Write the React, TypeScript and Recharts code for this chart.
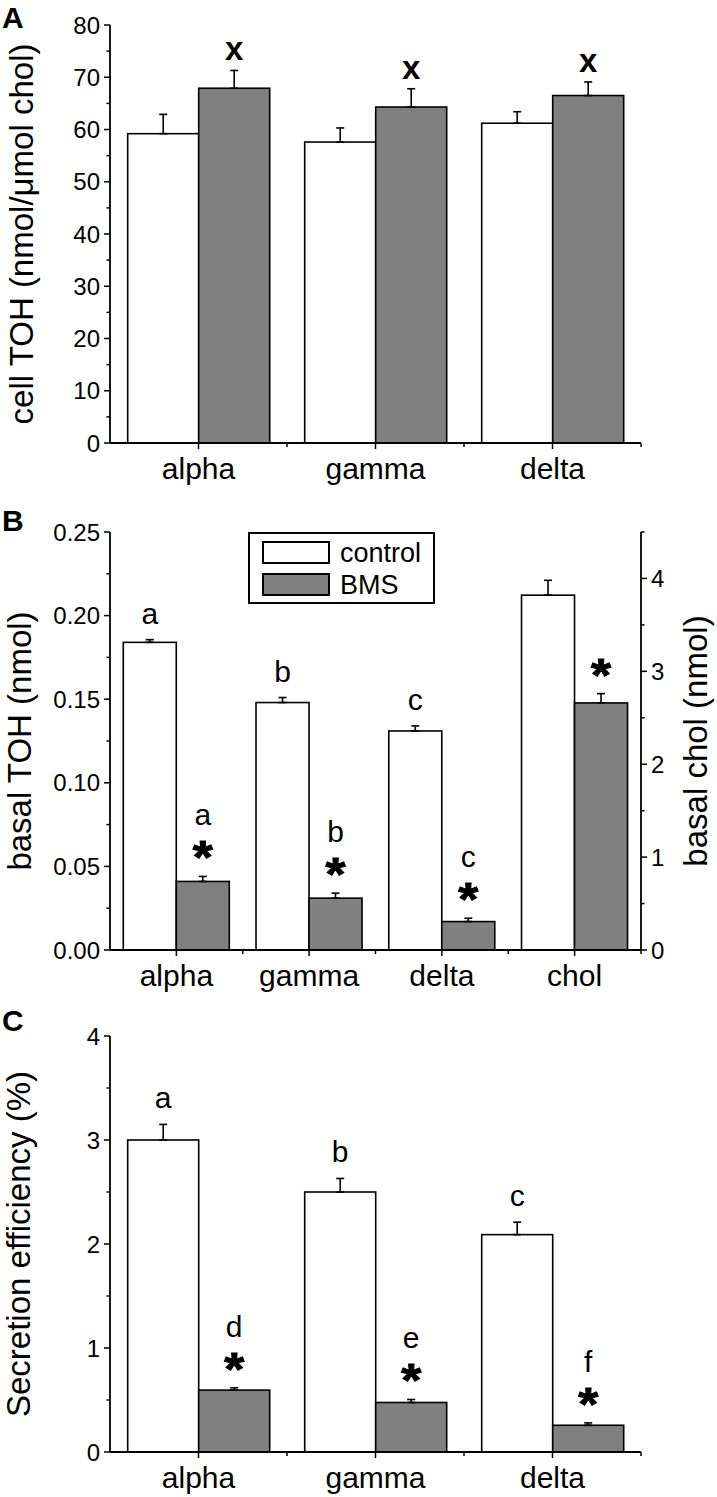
import React from 'react'
import { BarChart, Bar, XAxis, YAxis, ErrorBar, Legend } from 'recharts'

const FONT = '"Liberation Sans", Arial, Helvetica, sans-serif'
const GREY = '#808080'
const W = 717
const LEFT = 110
const RIGHT = 76

// Panel A - cell TOH
const catsA = ['alpha', 'gamma', 'delta']
const ctrlA = [59.2, 57.6, 61.2]
const ctrlErrA = [3.7, 2.7, 2.2]
const bmsA = [67.9, 64.3, 66.5]
const bmsErrA = [3.4, 3.5, 2.6]
const bmsMarkA = ['x', 'x', 'x']
const majorA = [0, 10, 20, 30, 40, 50, 60, 70, 80]
const minorA = [5, 15, 25, 35, 45, 55, 65, 75]

// Panel B - basal TOH (left axis) and basal chol (right axis)
const catsB = ['alpha', 'gamma', 'delta', 'chol']
const ctrlB = [0.184, 0.148, 0.131, null]
const ctrlErrB = [0.0016, 0.003, 0.003, null]
const bmsB = [0.041, 0.031, 0.017, null]
const bmsErrB = [0.003, 0.003, 0.002, null]
const ctrlCholB = [null, null, null, 3.82]
const ctrlCholErrB = [null, null, null, 0.16]
const bmsCholB = [null, null, null, 2.66]
const bmsCholErrB = [null, null, null, 0.1]
const ctrlLetterB = ['a', 'b', 'c', '']
const bmsLetterB = ['a', 'b', 'c', '']
const bmsStarB = [true, true, true, true]
const majorBL = [0, 0.05, 0.1, 0.15, 0.2, 0.25]
const minorBL = [0.025, 0.075, 0.125, 0.175, 0.225]
const majorBR = [0, 1, 2, 3, 4]
const minorBR = [0.5, 1.5, 2.5, 3.5, 4.5]
const legendNames = ['control', 'BMS']

// Panel C - secretion efficiency
const catsC = ['alpha', 'gamma', 'delta']
const ctrlC = [3.0, 2.5, 2.09]
const ctrlErrC = [0.15, 0.13, 0.12]
const bmsC = [0.595, 0.476, 0.257]
const bmsErrC = [0.022, 0.029, 0.023]
const ctrlLetterC = ['a', 'b', 'c']
const bmsLetterC = ['d', 'e', 'f']
const bmsStarC = [true, true, true]
const majorC = [0, 1, 2, 3, 4]
const minorC = [0.5, 1.5, 2.5, 3.5]

const dataA = catsA.map((cat, i) => ({
  cat, ctrl: ctrlA[i], ctrlErr: ctrlErrA[i], bms: bmsA[i], bmsErr: bmsErrA[i], bmsMark: bmsMarkA[i],
}))

const dataB = catsB.map((cat, i) => ({
  cat,
  ctrl: ctrlB[i], ctrlErr: ctrlErrB[i], bms: bmsB[i], bmsErr: bmsErrB[i],
  ctrlChol: ctrlCholB[i], ctrlCholErr: ctrlCholErrB[i], bmsChol: bmsCholB[i], bmsCholErr: bmsCholErrB[i],
  ctrlMark: ctrlLetterB[i], bmsMark: bmsLetterB[i], bmsStar: bmsStarB[i],
}))

const dataC = catsC.map((cat, i) => ({
  cat, ctrl: ctrlC[i], ctrlErr: ctrlErrC[i], bms: bmsC[i], bmsErr: bmsErrC[i],
  ctrlMark: ctrlLetterC[i], bmsMark: bmsLetterC[i], bmsStar: bmsStarC[i],
}))

const errOf = (key: string) => (d: any) => (d[key] == null ? null : [0, d[key]])

// bar rect plus the letter / asterisk stack that sits above its error bar
function barShape(fill: string, valKey: string, errKey: string, markKey?: string, starKey?: string, boldMark?: boolean) {
  return (p: any) => {
    const { x, y, width, height, payload } = p
    const v = payload[valKey]
    if (v == null || !(height > 0)) return <g />
    const e = payload[errKey] || 0
    const top = y - (e * height) / v
    const cx = x + width / 2
    const mark = markKey ? payload[markKey] : ''
    const star = starKey ? payload[starKey] : false
    return (
      <g>
        <rect x={x} y={y} width={width} height={height} fill={fill} stroke="#000" strokeWidth={1.6} />
        {star && (
          <text
            x={cx}
            y={top - 3}
            textAnchor="middle"
            fontSize={46}
            fontWeight="bold"
            fontFamily={FONT}
            stroke="#000"
            strokeWidth={1}
            textLength={20}
            lengthAdjust="spacingAndGlyphs"
          >
            *
          </text>
        )}
        {mark && (
          <text
            x={cx}
            y={star ? top - 51 : boldMark ? top - 10 : top - 16}
            textAnchor="middle"
            fontSize={boldMark ? 33 : 30}
            fontWeight={boldMark ? 'bold' : 'normal'}
            fontFamily={FONT}
          >
            {mark}
          </text>
        )}
      </g>
    )
  }
}

function yTick(majors: number[], fmt: (v: number) => string, side: 'left' | 'right') {
  return (p: any) => {
    const { x, y, payload } = p
    const v = payload.value
    const major = majors.includes(v)
    const s = side === 'left' ? -1 : 1
    return (
      <g>
        <line x1={x} x2={x + s * (major ? 6 : 3.5)} y1={y} y2={y} stroke="#000" strokeWidth={1.5} />
        {major && (
          <text x={x + s * 10} y={y + 8.5} textAnchor={side === 'left' ? 'end' : 'start'} fontSize={24} fontFamily={FONT}>
            {fmt(v)}
          </text>
        )}
      </g>
    )
  }
}

function xTick(band: number) {
  return (p: any) => {
    const { x, y, payload } = p
    return (
      <g>
        <line x1={x} x2={x} y1={y} y2={y + 6} stroke="#000" strokeWidth={1.5} />
        <line x1={x + band / 2} x2={x + band / 2} y1={y} y2={y + 4} stroke="#000" strokeWidth={1.5} />
        <text x={x} y={y + 36} textAnchor="middle" fontSize={30} fontFamily={FONT}>{payload.value}</text>
      </g>
    )
  }
}

function yTitle(text: string, bx: number) {
  return (p: any) => {
    const vb = p.viewBox || {}
    const cy = vb.y + vb.height / 2
    return (
      <text x={bx} y={cy} transform={`rotate(-90 ${bx} ${cy})`} textAnchor="middle" fontSize={33} fontFamily={FONT}>
        {text}
      </text>
    )
  }
}

const axisLine = { stroke: '#000', strokeWidth: 1.8 }
const fmtInt = (v: number) => String(v)
const fmt2 = (v: number) => v.toFixed(2)

const LegendBox = () => (
  <svg width={188} height={73}>
    <rect x={1} y={1} width={185} height={70} fill="#fff" stroke="#000" strokeWidth={2} />
    {legendNames.map((n, i) => (
      <g key={n}>
        <rect x={15} y={10 + i * 32} width={66} height={21} fill={i === 0 ? '#fff' : GREY} stroke="#000" strokeWidth={2} />
        <text x={92} y={30 + i * 32} fontSize={27} fontFamily={FONT}>{n}</text>
      </g>
    ))}
  </svg>
)

export default function App() {
  const bandA = (W - LEFT - RIGHT) / catsA.length
  const bandB = (W - LEFT - RIGHT) / catsB.length
  const bandC = (W - LEFT - RIGHT) / catsC.length
  return (
    <div style={{ position: 'absolute', left: 0, top: 0, width: W, height: 1497, background: '#fff' }}>
      <div style={{ position: 'absolute', left: 0, top: 0 }}>
        <BarChart width={W} height={490} data={dataA} margin={{ top: 25, right: RIGHT, bottom: 0, left: 0 }} barGap={0} barCategoryGap="10%">
          <XAxis dataKey="cat" height={47} axisLine={axisLine} tickLine={false} tickSize={0} tickMargin={0} interval={0} tick={xTick(bandA)} />
          <YAxis
            width={LEFT}
            domain={[0, 80]}
            ticks={[...majorA, ...minorA].sort((a, b) => a - b)}
            interval={0}
            axisLine={axisLine}
            tickLine={false}
            tickSize={0}
            tickMargin={0}
            tick={yTick(majorA, fmtInt, 'left')}
            label={yTitle('cell TOH (nmol/\u03bcmol chol)', 33)}
          />
          <Bar dataKey="ctrl" isAnimationActive={false} shape={barShape('#fff', 'ctrl', 'ctrlErr')}>
            <ErrorBar dataKey={errOf('ctrlErr')} width={4} stroke="#000" strokeWidth={1.6} isAnimationActive={false} />
          </Bar>
          <Bar dataKey="bms" isAnimationActive={false} shape={barShape(GREY, 'bms', 'bmsErr', 'bmsMark', undefined, true)}>
            <ErrorBar dataKey={errOf('bmsErr')} width={4} stroke="#000" strokeWidth={1.6} isAnimationActive={false} />
          </Bar>
        </BarChart>
      </div>

      <div style={{ position: 'absolute', left: 0, top: 480 }}>
        <BarChart width={W} height={520} data={dataB} margin={{ top: 52, right: 0, bottom: 0, left: 0 }} barGap={0} barCategoryGap="10%">
          <XAxis xAxisId="t" dataKey="cat" height={50} axisLine={axisLine} tickLine={false} tickSize={0} tickMargin={0} interval={0} tick={xTick(bandB)} />
          <XAxis xAxisId="c" dataKey="cat" height={0} hide />
          <YAxis
            yAxisId="l"
            width={LEFT}
            domain={[0, 0.25]}
            ticks={[...majorBL, ...minorBL].sort((a, b) => a - b)}
            interval={0}
            axisLine={axisLine}
            tickLine={false}
            tickSize={0}
            tickMargin={0}
            tick={yTick(majorBL, fmt2, 'left')}
            label={yTitle('basal TOH (nmol)', 31)}
          />
          <YAxis
            yAxisId="r"
            orientation="right"
            width={RIGHT}
            domain={[0, 4.5]}
            ticks={[...majorBR, ...minorBR].sort((a, b) => a - b)}
            interval={0}
            axisLine={axisLine}
            tickLine={false}
            tickSize={0}
            tickMargin={0}
            tick={yTick(majorBR, fmtInt, 'right')}
            label={yTitle('basal chol (nmol)', 707)}
          />
          <Legend layout="vertical" align="center" verticalAlign="middle" wrapperStyle={{ left: 248, top: 52, width: 188, height: 73 }} content={() => <LegendBox />} />
          <Bar xAxisId="t" yAxisId="l" dataKey="ctrl" isAnimationActive={false} shape={barShape('#fff', 'ctrl', 'ctrlErr', 'ctrlMark')}>
            <ErrorBar dataKey={errOf('ctrlErr')} width={4} stroke="#000" strokeWidth={1.6} isAnimationActive={false} />
          </Bar>
          <Bar xAxisId="t" yAxisId="l" dataKey="bms" isAnimationActive={false} shape={barShape(GREY, 'bms', 'bmsErr', 'bmsMark', 'bmsStar')}>
            <ErrorBar dataKey={errOf('bmsErr')} width={4} stroke="#000" strokeWidth={1.6} isAnimationActive={false} />
          </Bar>
          <Bar xAxisId="c" yAxisId="r" dataKey="ctrlChol" isAnimationActive={false} shape={barShape('#fff', 'ctrlChol', 'ctrlCholErr')}>
            <ErrorBar dataKey={errOf('ctrlCholErr')} width={4} stroke="#000" strokeWidth={1.6} isAnimationActive={false} />
          </Bar>
          <Bar xAxisId="c" yAxisId="r" dataKey="bmsChol" isAnimationActive={false} shape={barShape(GREY, 'bmsChol', 'bmsCholErr', undefined, 'bmsStar')}>
            <ErrorBar dataKey={errOf('bmsCholErr')} width={4} stroke="#000" strokeWidth={1.6} isAnimationActive={false} />
          </Bar>
        </BarChart>
      </div>

      <div style={{ position: 'absolute', left: 0, top: 990 }}>
        <BarChart width={W} height={507} data={dataC} margin={{ top: 46, right: RIGHT, bottom: 0, left: 0 }} barGap={0} barCategoryGap="10%">
          <XAxis dataKey="cat" height={45} axisLine={axisLine} tickLine={false} tickSize={0} tickMargin={0} interval={0} tick={xTick(bandC)} />
          <YAxis
            width={LEFT}
            domain={[0, 4]}
            ticks={[...majorC, ...minorC].sort((a, b) => a - b)}
            interval={0}
            axisLine={axisLine}
            tickLine={false}
            tickSize={0}
            tickMargin={0}
            tick={yTick(majorC, fmtInt, 'left')}
            label={yTitle('Secretion efficiency (%)', 30)}
          />
          <Bar dataKey="ctrl" isAnimationActive={false} shape={barShape('#fff', 'ctrl', 'ctrlErr', 'ctrlMark')}>
            <ErrorBar dataKey={errOf('ctrlErr')} width={4} stroke="#000" strokeWidth={1.6} isAnimationActive={false} />
          </Bar>
          <Bar dataKey="bms" isAnimationActive={false} shape={barShape(GREY, 'bms', 'bmsErr', 'bmsMark', 'bmsStar')}>
            <ErrorBar dataKey={errOf('bmsErr')} width={4} stroke="#000" strokeWidth={1.6} isAnimationActive={false} />
          </Bar>
        </BarChart>
      </div>

      <svg width={W} height={1497} style={{ position: 'absolute', left: 0, top: 0, pointerEvents: 'none' }}>
        <text x={2} y={28} fontSize={30} fontWeight="bold" fontFamily={FONT}>A</text>
        <text x={2} y={531} fontSize={30} fontWeight="bold" fontFamily={FONT}>B</text>
        <text x={2} y={1031} fontSize={30} fontWeight="bold" fontFamily={FONT}>C</text>
      </svg>
    </div>
  )
}
